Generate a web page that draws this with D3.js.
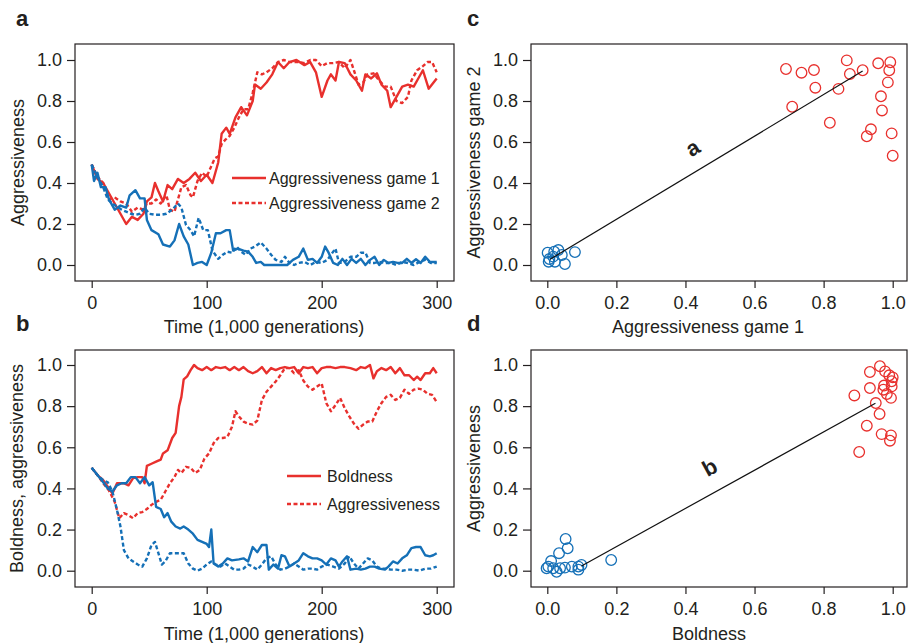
<!DOCTYPE html>
<html>
<head>
<meta charset="utf-8">
<script src="https://cdn.jsdelivr.net/npm/d3@7"></script>
<style>
    body { margin: 0; background: #fff; }
    text { font-family: "Liberation Sans", Arial, Helvetica, sans-serif; fill: #231f20; }
</style>
</head>
<body>
<script>
// ---- data ----
// panel a: aggressiveness over time, two games, [time, value]
const aGame1Red = [[0,0.49],[5,0.42],[10,0.40],[15,0.35],[20,0.30],[25,0.25],[30,0.20],[35,0.235],[40,0.22],[45,0.25],[48,0.31],[52,0.33],[55,0.40],[58,0.36],[62,0.31],[66,0.39],[70,0.37],[75,0.42],[80,0.40],[85,0.42],[90,0.45],[95,0.41],[100,0.44],[105,0.40],[110,0.50],[113,0.64],[117,0.67],[120,0.64],[125,0.72],[130,0.77],[135,0.73],[140,0.80],[142,0.88],[147,0.86],[152,0.89],[157,0.93],[162,0.99],[167,0.96],[172,0.99],[178,1.0],[185,0.975],[190,0.99],[195,0.94],[200,0.82],[205,0.90],[208,0.93],[212,0.90],[215,0.99],[220,0.985],[225,0.93],[230,0.90],[235,0.85],[238,0.93],[243,0.91],[248,0.935],[252,0.88],[257,0.85],[260,0.77],[265,0.82],[270,0.87],[275,0.88],[280,0.87],[283,0.90],[288,0.95],[293,0.86],[300,0.91]];
const aGame2Red = [[0,0.49],[5,0.43],[10,0.40],[15,0.32],[20,0.33],[25,0.31],[30,0.30],[35,0.26],[40,0.28],[45,0.27],[48,0.30],[52,0.30],[56,0.32],[60,0.30],[65,0.34],[68,0.27],[72,0.26],[75,0.32],[78,0.38],[82,0.39],[86,0.34],[88,0.33],[92,0.41],[96,0.45],[100,0.43],[103,0.47],[107,0.52],[110,0.53],[113,0.59],[116,0.61],[120,0.63],[124,0.67],[128,0.72],[132,0.76],[136,0.76],[140,0.84],[144,0.94],[148,0.93],[152,0.94],[157,0.96],[162,0.99],[167,1.0],[172,0.99],[180,0.99],[185,0.985],[190,1.0],[195,1.0],[200,0.97],[205,0.985],[210,0.985],[215,0.99],[220,0.96],[225,1.0],[228,0.95],[232,0.88],[236,0.89],[240,0.93],[245,0.935],[250,0.90],[255,0.87],[260,0.87],[265,0.80],[270,0.79],[275,0.82],[278,0.90],[283,0.95],[288,0.97],[292,0.99],[296,0.99],[300,0.94]];
const aGame1Blue = [[0,0.49],[2,0.41],[5,0.45],[8,0.38],[12,0.38],[15,0.32],[20,0.27],[25,0.29],[30,0.28],[33,0.34],[38,0.365],[42,0.325],[46,0.325],[48,0.22],[52,0.17],[58,0.15],[62,0.10],[68,0.09],[72,0.12],[76,0.20],[80,0.14],[84,0.10],[88,0.0],[92,0.01],[96,0.015],[100,0.0],[104,0.06],[108,0.155],[112,0.155],[117,0.17],[120,0.17],[123,0.07],[127,0.08],[132,0.07],[136,0.065],[140,0.04],[143,0.01],[147,0.015],[150,0.0],[170,0.0],[175,0.025],[180,0.04],[184,0.08],[188,0.025],[192,0.03],[196,0.01],[200,0.04],[203,0.09],[206,0.06],[210,0.01],[214,0.0],[218,0.03],[222,0.0],[226,0.03],[230,0.01],[234,0.03],[238,0.0],[242,0.025],[246,0.04],[250,0.0],[254,0.025],[258,0.01],[262,0.015],[266,0.01],[270,0.01],[274,0.03],[278,0.01],[282,0.028],[286,0.01],[290,0.04],[294,0.015],[300,0.015]];
const aGame2Blue = [[0,0.49],[5,0.43],[10,0.38],[14,0.32],[18,0.30],[22,0.285],[26,0.27],[30,0.26],[34,0.25],[38,0.245],[42,0.25],[46,0.28],[50,0.25],[55,0.245],[60,0.245],[65,0.25],[70,0.27],[75,0.30],[78,0.28],[82,0.195],[86,0.17],[89,0.14],[93,0.23],[97,0.17],[101,0.17],[105,0.07],[110,0.03],[114,0.05],[118,0.065],[122,0.06],[126,0.09],[130,0.065],[134,0.05],[138,0.08],[142,0.09],[147,0.11],[152,0.08],[156,0.05],[160,0.025],[165,0.015],[168,0.04],[172,0.01],[176,0.0],[180,0.01],[185,0.015],[190,0.0],[195,0.015],[200,0.01],[205,0.025],[208,0.05],[212,0.08],[215,0.01],[220,0.015],[225,0.04],[230,0.04],[234,0.06],[238,0.06],[242,0.01],[246,0.01],[250,0.015],[255,0.01],[260,0.01],[265,0.0],[270,0.015],[275,0.01],[280,0.0],[285,0.015],[290,0.025],[295,0.01],[300,0.01]];

// panel b: boldness and aggressiveness over time
const bBoldRed = [[0,0.50],[5,0.465],[10,0.44],[15,0.40],[18,0.375],[20,0.40],[22,0.425],[28,0.425],[32,0.415],[36,0.45],[40,0.455],[44,0.455],[46,0.425],[48,0.51],[52,0.52],[56,0.53],[60,0.54],[62,0.57],[66,0.585],[70,0.645],[73,0.67],[76,0.80],[78,0.845],[80,0.93],[83,0.945],[86,0.975],[89,1.0],[92,0.985],[96,0.975],[100,0.99],[104,0.975],[108,0.99],[112,0.985],[116,0.99],[120,0.975],[124,0.99],[128,0.975],[132,0.99],[136,0.97],[140,0.96],[144,0.97],[148,0.99],[152,0.96],[156,0.985],[160,0.975],[164,0.985],[168,0.99],[172,0.985],[176,0.99],[180,0.96],[184,0.99],[188,0.985],[192,0.99],[196,0.96],[200,0.985],[204,0.99],[208,0.99],[212,0.985],[216,0.99],[220,0.99],[225,0.985],[230,0.975],[234,0.99],[238,0.985],[242,1.0],[245,0.935],[248,0.97],[252,0.985],[256,0.975],[260,0.99],[264,0.96],[268,0.985],[272,0.95],[276,0.95],[280,0.927],[283,0.943],[286,0.927],[290,0.96],[294,0.96],[297,0.985],[300,0.96]];
const bAggrRed = [[0,0.50],[5,0.465],[10,0.425],[15,0.39],[20,0.335],[24,0.255],[28,0.28],[32,0.27],[36,0.255],[40,0.28],[44,0.285],[48,0.30],[52,0.32],[56,0.335],[60,0.345],[64,0.385],[68,0.425],[72,0.455],[75,0.49],[78,0.475],[82,0.505],[86,0.50],[90,0.475],[94,0.49],[98,0.545],[102,0.57],[106,0.62],[110,0.645],[114,0.645],[118,0.65],[122,0.70],[125,0.775],[128,0.75],[132,0.725],[136,0.715],[140,0.71],[144,0.73],[148,0.83],[152,0.87],[156,0.895],[160,0.92],[164,0.95],[168,0.985],[172,0.985],[176,0.96],[180,0.975],[184,0.925],[188,0.895],[192,0.88],[196,0.895],[200,0.91],[204,0.815],[208,0.775],[212,0.805],[216,0.84],[220,0.79],[224,0.75],[228,0.715],[232,0.69],[236,0.71],[240,0.725],[244,0.725],[248,0.775],[252,0.815],[256,0.845],[260,0.855],[264,0.83],[268,0.84],[272,0.88],[276,0.86],[280,0.88],[284,0.885],[288,0.88],[292,0.86],[296,0.855],[300,0.82]];
const bBoldBlue = [[0,0.50],[5,0.465],[10,0.43],[14,0.40],[18,0.385],[22,0.415],[26,0.425],[30,0.425],[34,0.455],[38,0.455],[42,0.425],[46,0.455],[50,0.415],[53,0.43],[56,0.31],[60,0.30],[63,0.26],[66,0.28],[69,0.24],[73,0.215],[77,0.205],[80,0.215],[84,0.20],[88,0.18],[92,0.15],[96,0.14],[100,0.13],[102,0.115],[104,0.20],[106,0.035],[110,0.02],[114,0.035],[118,0.06],[122,0.05],[128,0.055],[132,0.06],[136,0.045],[140,0.115],[144,0.09],[148,0.125],[152,0.125],[154,0.005],[158,0.03],[162,0.01],[165,0.075],[168,0.07],[172,0.02],[176,0.035],[180,0.05],[184,0.085],[188,0.07],[192,0.06],[196,0.06],[200,0.05],[204,0.03],[208,0.06],[212,0.05],[215,0.02],[218,0.045],[222,0.07],[225,0.005],[230,0.01],[234,0.005],[238,0.01],[242,0.02],[246,0.02],[250,0.01],[255,0.005],[258,0.02],[262,0.045],[266,0.035],[270,0.06],[274,0.075],[278,0.11],[282,0.115],[286,0.115],[290,0.075],[294,0.07],[297,0.075],[300,0.085]];
const bAggrBlue = [[0,0.50],[5,0.465],[10,0.44],[14,0.43],[18,0.385],[22,0.295],[25,0.215],[28,0.10],[32,0.06],[36,0.045],[40,0.03],[44,0.02],[48,0.06],[52,0.125],[55,0.14],[58,0.085],[61,0.03],[64,0.045],[68,0.085],[72,0.085],[76,0.085],[80,0.085],[84,0.035],[88,0.01],[92,0.0],[96,0.01],[100,0.03],[104,0.045],[108,0.03],[112,0.02],[116,0.035],[120,0.02],[124,0.005],[128,0.005],[132,0.01],[136,0.03],[140,0.02],[144,0.005],[148,0.03],[152,0.06],[156,0.07],[160,0.03],[164,0.005],[168,0.01],[172,0.02],[176,0.035],[180,0.02],[184,0.005],[188,0.01],[192,0.01],[196,0.005],[200,0.02],[205,0.03],[210,0.02],[215,0.01],[220,0.035],[224,0.07],[228,0.035],[232,0.01],[236,0.035],[240,0.06],[244,0.05],[248,0.02],[252,0.01],[256,0.01],[260,0.005],[265,0.005],[270,0.0],[275,0.005],[280,0.005],[285,0.0],[290,0.01],[295,0.01],[300,0.02]];

// panel c: aggressiveness game 1 vs game 2, [x, y]
const cRedPoints = [[0.691,0.956],[0.736,0.938],[0.772,0.951],[0.776,0.865],[0.709,0.772],[0.818,0.694],[0.843,0.859],[0.867,0.998],[0.876,0.932],[0.913,0.950],[0.958,0.984],[0.993,0.989],[0.990,0.950],[0.986,0.891],[0.966,0.823],[0.969,0.754],[0.937,0.662],[0.925,0.628],[0.997,0.642],[1.0,0.533]];
const cBluePoints = [[0.001,0.060],[0.004,0.016],[0.017,0.041],[0.032,0.073],[0.042,0.049],[0.022,0.016],[0.051,0.005],[0.080,0.063],[0.006,0.029],[0.020,0.065]];
const cFitLine = [[0.008,0.028],[0.913,0.946]];
const cFitLabel = {text: 'a', at: [0.432, 0.54]};

// panel d: boldness vs aggressiveness
const dRedPoints = [[0.934,0.966],[0.963,0.994],[0.978,0.969],[1.0,0.940],[0.997,0.921],[0.997,0.896],[0.934,0.888],[0.973,0.880],[0.983,0.859],[0.995,0.840],[0.889,0.852],[0.951,0.815],[0.962,0.762],[0.925,0.705],[0.968,0.664],[0.995,0.658],[0.992,0.632],[0.903,0.577],[0.99,0.95],[0.975,0.90]];
const dBluePoints = [[0.053,0.154],[0.059,0.109],[0.034,0.085],[0.011,0.047],[0.003,0.020],[0.017,0.012],[0.037,0.012],[0.051,0.015],[0.071,0.020],[0.090,0.020],[0.099,0.028],[0.185,0.052],[-0.002,0.012],[0.027,-0.005],[0.090,0.005]];
const dFitLine = [[0.099,0.023],[0.950,0.814]];
const dFitLabel = {text: 'b', at: [0.481, 0.47]};

const unitTicks = [0, 0.2, 0.4, 0.6, 0.8, 1.0];
const timeTicks = [0, 100, 200, 300];

// ---- style ----
const RED = '#e8302d', BLUE = '#1570b7', INK = '#231f20';

const svg = d3.select('body').append('svg')
    .attr('width', 908)
    .attr('height', 643);

/**
 * Draw box, axes and titles of one panel, return its scales and a clipped group
 */
const makePanel = (opt) => {
    const [x0, y0, x1, y1] = opt.box;
    const x = d3.scaleLinear().domain(opt.xDomain).range(opt.xRange);
    const y = d3.scaleLinear().domain([0, 1]).range(opt.yRange);
    const g = svg.append('g');

    svg.append('clipPath').attr('id', 'clip-' + opt.name)
        .append('rect')
        .attr('x', x0).attr('y', y0)
        .attr('width', x1 - x0).attr('height', y1 - y0);

    const xAxis = g.append('g')
        .attr('transform', `translate(0,${y1})`)
        .call(d3.axisBottom(x).tickValues(opt.xTicks).tickSize(7).tickPadding(8).tickFormat(opt.xFormat));
    const yAxis = g.append('g')
        .attr('transform', `translate(${x0},0)`)
        .call(d3.axisLeft(y).tickValues(unitTicks).tickSize(8).tickPadding(5).tickFormat(d3.format('.1f')));
    [xAxis, yAxis].forEach(ax => {
        ax.attr('font-size', 18);
        ax.select('.domain').remove();
        ax.selectAll('line').attr('stroke', INK).attr('stroke-width', 1.2);
    });

    // frame
    g.append('rect')
        .attr('x', x0).attr('y', y0)
        .attr('width', x1 - x0).attr('height', y1 - y0)
        .attr('fill', 'none')
        .attr('stroke', INK)
        .attr('stroke-width', 1.2);

    // axis titles
    g.append('text')
        .attr('x', opt.xTitlePos[0]).attr('y', opt.xTitlePos[1])
        .attr('text-anchor', 'middle')
        .attr('font-size', 18)
        .text(opt.xTitle);
    g.append('text')
        .attr('transform', `translate(${opt.yTitleX},${(y0 + y1) / 2}) rotate(-90)`)
        .attr('text-anchor', 'middle')
        .attr('font-size', 18)
        .text(opt.yTitle);

    // panel letter
    g.append('text')
        .attr('x', opt.letterPos[0]).attr('y', opt.letterPos[1])
        .attr('font-size', 22)
        .attr('font-weight', 'bold')
        .text(opt.name);

    const plot = g.append('g').attr('clip-path', `url(#clip-${opt.name})`);
    return {x, y, g, plot};
};

const drawSeries = (panel, data, color, dashed) => {
    const line = d3.line().x(d => panel.x(d[0])).y(d => panel.y(d[1]));
    panel.plot.append('path')
        .datum(data)
        .attr('d', line)
        .attr('fill', 'none')
        .attr('stroke', color)
        .attr('stroke-width', 2.4)
        .attr('stroke-linejoin', 'round')
        .attr('stroke-dasharray', dashed ? '4,2.5' : null);
};

const drawLegend = (g, items, lineX, textX, rowsY) => {
    items.forEach((it, i) => {
        g.append('line')
            .attr('x1', lineX[0]).attr('x2', lineX[1])
            .attr('y1', rowsY[i]).attr('y2', rowsY[i])
            .attr('stroke', RED)
            .attr('stroke-width', 2.4)
            .attr('stroke-dasharray', it.dashed ? '4,2.5' : null);
        g.append('text')
            .attr('x', textX).attr('y', rowsY[i] + 6)
            .attr('font-size', 16)
            .text(it.label);
    });
};

const drawScatter = (panel, points, color) => {
    panel.plot.selectAll(null)
        .data(points)
        .enter()
        .append('circle')
        .attr('cx', d => panel.x(d[0]))
        .attr('cy', d => panel.y(d[1]))
        .attr('r', 5.3)
        .attr('fill', 'none')
        .attr('stroke', color)
        .attr('stroke-width', 1.3);
};

const drawFit = (panel, ends, label) => {
    const [p, q] = ends.map(d => [panel.x(d[0]), panel.y(d[1])]);
    panel.plot.append('line')
        .attr('x1', p[0]).attr('y1', p[1])
        .attr('x2', q[0]).attr('y2', q[1])
        .attr('stroke', '#111')
        .attr('stroke-width', 1.2);
    const angle = Math.atan2(q[1] - p[1], q[0] - p[0]) * 180 / Math.PI;
    panel.g.append('text')
        .attr('transform', `translate(${panel.x(label.at[0])},${panel.y(label.at[1])}) rotate(${angle})`)
        .attr('text-anchor', 'middle')
        .attr('font-size', 22)
        .attr('font-weight', 'bold')
        .text(label.text);
};

// ---- panel a ----
const pa = makePanel({
    name: 'a', box: [75, 44, 454, 281],
    xDomain: [0, 300], xRange: [91.7, 436.7], yRange: [265, 60],
    xTicks: timeTicks, xFormat: d3.format('d'),
    xTitle: 'Time (1,000 generations)', xTitlePos: [264, 333],
    yTitle: 'Aggressiveness', yTitleX: 24,
    letterPos: [16, 26]
});
drawSeries(pa, aGame2Red, RED, true);
drawSeries(pa, aGame1Red, RED, false);
drawSeries(pa, aGame2Blue, BLUE, true);
drawSeries(pa, aGame1Blue, BLUE, false);
drawLegend(pa.g, [{label: 'Aggressiveness game 1'}, {label: 'Aggressiveness game 2', dashed: true}],
    [232, 266], 269, [178, 203]);

// ---- panel b ----
const pb = makePanel({
    name: 'b', box: [75, 350, 454, 587],
    xDomain: [0, 300], xRange: [91.7, 436.7], yRange: [570.7, 365],
    xTicks: timeTicks, xFormat: d3.format('d'),
    xTitle: 'Time (1,000 generations)', xTitlePos: [264, 640],
    yTitle: 'Boldness, aggressiveness', yTitleX: 23,
    letterPos: [16, 331]
});
drawSeries(pb, bAggrRed, RED, true);
drawSeries(pb, bBoldRed, RED, false);
drawSeries(pb, bAggrBlue, BLUE, true);
drawSeries(pb, bBoldBlue, BLUE, false);
drawLegend(pb.g, [{label: 'Boldness'}, {label: 'Aggressiveness', dashed: true}],
    [287, 321], 327, [476, 504]);

// ---- panel c ----
const pc = makePanel({
    name: 'c', box: [531, 44, 907, 281],
    xDomain: [0, 1], xRange: [547.3, 892.7], yRange: [265, 60],
    xTicks: unitTicks, xFormat: d3.format('.1f'),
    xTitle: 'Aggressiveness game 1', xTitlePos: [708, 333],
    yTitle: 'Aggressiveness game 2', yTitleX: 480,
    letterPos: [467, 26]
});
drawScatter(pc, cRedPoints, RED);
drawScatter(pc, cBluePoints, BLUE);
drawFit(pc, cFitLine, cFitLabel);

// ---- panel d ----
const pd = makePanel({
    name: 'd', box: [531, 350, 907, 587],
    xDomain: [0, 1], xRange: [547.3, 892.7], yRange: [570.7, 365],
    xTicks: unitTicks, xFormat: d3.format('.1f'),
    xTitle: 'Boldness', xTitlePos: [709, 640],
    yTitle: 'Aggressiveness', yTitleX: 480,
    letterPos: [467, 331]
});
drawScatter(pd, dRedPoints, RED);
drawScatter(pd, dBluePoints, BLUE);
drawFit(pd, dFitLine, dFitLabel);
</script>
</body>
</html>
